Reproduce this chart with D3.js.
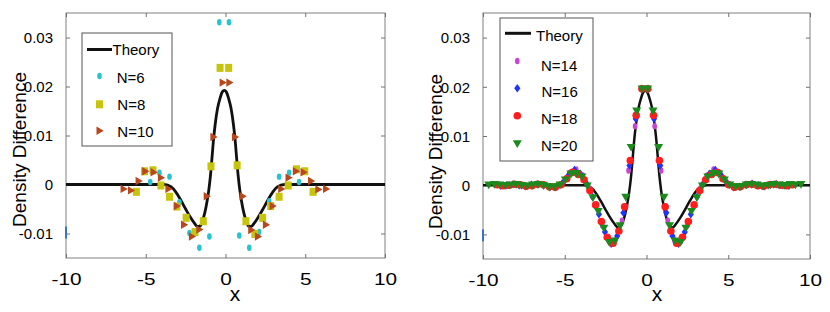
<!DOCTYPE html>
<html>
<head>
<meta charset="utf-8">
<script src="https://cdn.jsdelivr.net/npm/d3@7"></script>
<style>
  body { margin: 0; background: #fff; }
  svg { display: block; font-family: "Liberation Sans", Arial, Helvetica, sans-serif; }
</style>
</head>
<body>
<div id="chart"></div>
<script>
const xTicks = [-10, -5, 0, 5, 10];
const yTicks = [-0.01, 0, 0.01, 0.02, 0.03];

// theory curve
const theoryX = [-10, -3.85, -3.4, -3.1, -2.8, -2.5, -2.2, -1.95, -1.75, -1.6, -1.45, -1.3, -1.15, -1.05, -0.95, -0.85, -0.75, -0.65, -0.5, -0.35, -0.2, -0.075,
  0.05, 0.2, 0.35, 0.5, 0.6, 0.7, 0.8, 0.9, 1.0, 1.15, 1.3, 1.45, 1.6, 1.8, 2.05, 2.35, 2.65, 2.95, 3.25, 3.7, 10];
const theoryY = [0, 0, -0.0005, -0.0016, -0.0032, -0.005, -0.0067, -0.0079, -0.0086, -0.0085, -0.0075, -0.0058, -0.0033, -0.0012, 0.0016, 0.0053, 0.0092, 0.0122, 0.0155, 0.0175, 0.0189, 0.0192,
  0.0189, 0.0175, 0.0155, 0.0122, 0.0092, 0.0053, 0.0016, -0.0012, -0.0033, -0.0058, -0.0075, -0.0085, -0.0086, -0.0079, -0.0067, -0.005, -0.0032, -0.0016, -0.0005, 0, 0];

// left panel
const n6X = [-4.72, -4.14, -3.51, -2.89, -2.26, -1.64, -1.01, -0.39, 0.22, 0.86, 1.49, 2.11, 2.74, 3.36, 3.99, 4.61];
const n6Y = [0.0005, 0.0024, 0.0016, -0.0036, -0.0099, -0.0129, -0.0106, 0.0331, 0.0331, -0.0104, -0.0129, -0.0097, -0.0034, 0.0016, 0.0024, 0.0005];

const n8X = [-5.59, -5.08, -4.55, -4.05, -3.51, -3.05, -2.47, -1.91, -1.39, -0.91, -0.34, 0.2, 0.73, 1.28, 1.84, 2.33, 2.83, 3.36, 3.93, 4.45, 4.97, 5.49];
const n8Y = [-0.0015, 0.0027, 0.0029, -0.0002, -0.0025, -0.0045, -0.0068, -0.0097, -0.0075, 0.0037, 0.0238, 0.0238, 0.0039, -0.0075, -0.0101, -0.0068, -0.0044, -0.0025, -0.0002, 0.0031, 0.0027, -0.0015];

const n10X = [-6.39, -5.93, -5.45, -5.03, -4.51, -4.05, -3.58, -3.05, -2.6, -2.11, -1.64, -1.18, -0.76, -0.18, 0.24, 0.59, 1.07, 1.61, 2.03, 2.53, 2.95, 3.49, 3.95, 4.41, 4.89, 5.36, 5.82, 6.3];
const n10Y = [-0.0009, -0.0012, 0.0007, 0.0027, 0.0025, 0.0014, -0.0009, -0.0044, -0.0082, -0.0106, -0.0092, -0.0024, 0.0097, 0.0208, 0.0208, 0.0097, -0.0024, -0.0093, -0.0106, -0.0082, -0.0044, -0.0009, 0.0014, 0.0027, 0.0025, 0.0007, -0.001, -0.0009];

// right panel
const n14X = [-8.3, -7.9, -7.5, -7.1, -6.7, -6.3, -5.9, -5.5, -5.1, -4.7, -4.3, -3.9, -3.5, -3.1, -2.7, -2.3, -1.9, -1.5, -1.1, -0.7, -0.3,
  0.1, 0.5, 0.9, 1.3, 1.7, 2.1, 2.5, 2.9, 3.3, 3.7, 4.1, 4.5, 4.9, 5.3, 5.7, 6.1, 6.5, 6.9, 7.3, 7.7, 8.1];
const n14Y = [0, 0.0001, -0.0001, 0, 0.0002, 0.0001, -0.0003, -0.0004, 0.0006, 0.0025, 0.0032, 0.002, -0.0006, -0.0041, -0.0082, -0.0114, -0.0112, -0.0072, 0.003, 0.012, 0.0195,
  0.0195, 0.012, 0.003, -0.0072, -0.0112, -0.0114, -0.0082, -0.0041, -0.0006, 0.002, 0.0032, 0.0025, 0.0006, -0.0004, -0.0002, 0.0002, 0.0001, -0.0001, 0, 0.0002, 0];

const n16X = [-8.91, -8.54, -8.16, -7.79, -7.41, -7.04, -6.66, -6.29, -5.91, -5.54, -5.16, -4.79, -4.41, -4.04, -3.66, -3.29, -2.91, -2.54, -2.16, -1.79, -1.41, -1.04, -0.66, -0.29,
  0.09, 0.46, 0.84, 1.21, 1.59, 1.96, 2.34, 2.71, 3.09, 3.46, 3.84, 4.21, 4.59, 4.96, 5.34, 5.71, 6.09, 6.46, 6.84, 7.21, 7.59, 7.96, 8.34, 8.71];
const n16Y = [-0.0001, 0, 0.0002, 0, -0.0002, 0.0001, 0.0002, 0, -0.0004, -0.0004, 0.0003, 0.0019, 0.0031, 0.0023, 0.0003, -0.0024, -0.0059, -0.0095, -0.0119, -0.0103, -0.0056, 0.004, 0.0135, 0.0196,
  0.0196, 0.0135, 0.004, -0.0056, -0.0103, -0.0119, -0.0095, -0.0059, -0.0024, 0.0003, 0.0023, 0.0031, 0.0019, 0.0003, -0.0004, -0.0003, 0.0001, 0.0003, 0, -0.0002, 0.0001, 0.0002, 0, -0.0001];

const n18X = [-9.13, -8.77, -8.42, -8.07, -7.71, -7.36, -7.0, -6.65, -6.3, -5.94, -5.59, -5.23, -4.88, -4.53, -4.17, -3.82, -3.46, -3.11, -2.76, -2.4, -2.05, -1.69, -1.34, -0.99, -0.63, -0.28,
  0.08, 0.43, 0.79, 1.14, 1.49, 1.85, 2.2, 2.56, 2.91, 3.26, 3.62, 3.97, 4.33, 4.68, 5.03, 5.39, 5.74, 6.1, 6.45, 6.8, 7.16, 7.51, 7.87, 8.22, 8.57, 8.93];
const n18Y = [0.0001, -0.0001, 0, 0.0002, 0.0001, -0.0002, -0.0001, 0.0002, 0.0001, -0.0003, -0.0004, 0.0001, 0.0013, 0.0026, 0.0022, 0.0011, -0.0011, -0.004, -0.0074, -0.0106, -0.0118, -0.0093, -0.0044, 0.005, 0.0142, 0.0196,
  0.0196, 0.0142, 0.005, -0.0044, -0.0093, -0.0118, -0.0106, -0.0074, -0.004, -0.0011, 0.0011, 0.0022, 0.0026, 0.0013, 0.0001, -0.0004, -0.0003, 0.0001, 0.0002, -0.0001, -0.0002, 0.0001, 0.0002, 0, -0.0001, 0.0001];

const n20X = [-9.65, -9.31, -8.98, -8.64, -8.31, -7.97, -7.64, -7.3, -6.97, -6.63, -6.3, -5.96, -5.63, -5.29, -4.96, -4.62, -4.29, -3.95, -3.62, -3.28, -2.95, -2.61, -2.28, -1.94, -1.61, -1.27, -0.94, -0.6, -0.27,
  0.07, 0.4, 0.74, 1.07, 1.41, 1.74, 2.08, 2.41, 2.75, 3.08, 3.42, 3.75, 4.09, 4.42, 4.76, 5.09, 5.43, 5.76, 6.1, 6.43, 6.77, 7.1, 7.44, 7.77, 8.11, 8.44, 8.78, 9.11, 9.45];
const n20Y = [0, 0.0001, 0, -0.0001, 0, 0.0001, -0.0001, -0.0002, 0, 0.0001, -0.0001, -0.0004, -0.0004, 0, 0.001, 0.0022, 0.0023, 0.0016, -0.0002, -0.0026, -0.0054, -0.0088, -0.0117, -0.0114, -0.0083, -0.0025, 0.0076, 0.015, 0.0195,
  0.0195, 0.015, 0.0076, -0.0025, -0.0083, -0.0114, -0.0117, -0.0088, -0.0054, -0.0026, -0.0002, 0.0016, 0.0023, 0.0022, 0.001, 0, -0.0004, -0.0003, 0, 0.0001, 0, -0.0002, -0.0001, 0.0001, 0, -0.0001, 0.0001, 0, 0.0001];

// stray blue specks in the original
const strayLeft = [[-10, -0.0098]];
const strayRight = [[-10, -0.0102], [-3.47, 0.0309]];

const width = 830, height = 312;

const svg = d3.select("#chart").append("svg")
  .attr("width", width)
  .attr("height", height);

svg.append("rect").attr("width", width).attr("height", height).attr("fill", "#fff");

const shapes = {
  dot: g => g.append("ellipse").attr("rx", 2.3).attr("ry", 3.2),
  square: g => g.append("rect").attr("x", -3.5).attr("y", -4).attr("width", 7).attr("height", 8),
  triRight: g => g.append("path").attr("d", "M-3,-4.2L4.2,0L-3,4.2Z"),
  diamond: g => g.append("path").attr("d", "M0,-4.3L3.1,0L0,4.3L-3.1,0Z"),
  circle: g => g.append("circle").attr("r", 3.8),
  triDown: g => g.append("path").attr("d", "M-4.5,-3.8L4.5,-3.8L0,4Z")
};

const panels = [
  {
    left: 66, right: 385, top: 13, bottom: 258, lineWidth: 2.8,
    yLabel: [26, 149.5], xLabel: [235, 301],
    stray: strayLeft,
    series: [
      { label: "N=6", xs: n6X, ys: n6Y, shape: "dot", color: "#27c4cf" },
      { label: "N=8", xs: n8X, ys: n8Y, shape: "square", color: "#c6c40c" },
      { label: "N=10", xs: n10X, ys: n10Y, shape: "triRight", color: "#b9471d" }
    ],
    legend: {
      box: [82, 33, 90, 113], line: [87, 112, 49.5], theoryText: [112.5, 55],
      markX: 99.5, markY: [76, 104.3, 130.7], textX: [116.7, 117.3, 117.3], textY: [82.7, 110, 136.7]
    }
  },
  {
    left: 483, right: 810, top: 13, bottom: 259, lineWidth: 2.5,
    yLabel: [442, 151.5], xLabel: [657, 301],
    stray: strayRight,
    series: [
      { label: "N=14", xs: n14X, ys: n14Y, shape: "dot", color: "#c645d2" },
      { label: "N=16", xs: n16X, ys: n16Y, shape: "diamond", color: "#1f32ff" },
      { label: "N=18", xs: n18X, ys: n18Y, shape: "circle", color: "#ff1d1d" },
      { label: "N=20", xs: n20X, ys: n20Y, shape: "triDown", color: "#1d8a1d" }
    ],
    legend: {
      box: [500, 18, 93, 143], line: [505, 531, 33.3], theoryText: [536, 40.5],
      markX: 517.3, markY: [61, 88.3, 115.7, 144], textX: [541, 541.5, 541, 541], textY: [70.7, 97, 124, 150.7]
    }
  }
];

panels.forEach(p => {
  const x = d3.scaleLinear().domain([-10, 10]).range([p.left, p.right]);
  const y = d3.scaleLinear().domain([-0.015, 0.035]).range([p.bottom, p.top]);
  const g = svg.append("g");

  // frame
  g.append("rect")
    .attr("x", p.left).attr("y", p.top)
    .attr("width", p.right - p.left).attr("height", p.bottom - p.top)
    .attr("fill", "none").attr("stroke", "#808080").attr("stroke-width", 1);

  // ticks on all four sides, pointing inwards
  const bottomAxis = g.append("g")
    .attr("transform", `translate(0,${p.bottom})`)
    .call(d3.axisBottom(x).tickValues(xTicks).tickSize(-4).tickFormat(d => String(d)));
  g.append("g")
    .attr("transform", `translate(0,${p.top})`)
    .call(d3.axisTop(x).tickValues(xTicks).tickSize(-4).tickFormat(""));
  const leftAxis = g.append("g")
    .attr("transform", `translate(${p.left},0)`)
    .call(d3.axisLeft(y).tickValues(yTicks).tickSize(-4).tickFormat(d => d === 0 ? "0" : d.toFixed(2)));
  g.append("g")
    .attr("transform", `translate(${p.right},0)`)
    .call(d3.axisRight(y).tickValues(yTicks).tickSize(-4).tickFormat(""));

  g.selectAll(".domain").remove();
  g.selectAll(".tick line").attr("stroke", "#707070");

  bottomAxis.selectAll("text")
    .attr("y", 27).attr("dy", 0)
    .attr("transform", "scale(1.3,1)")
    .style("font-size", "16px").attr("fill", "#000");
  leftAxis.selectAll("text")
    .attr("x", -13).attr("dy", "0.35em")
    .style("font-size", "15px").attr("fill", "#000");

  // axis titles
  g.append("text")
    .attr("transform", `translate(${p.yLabel[0]},${p.yLabel[1]}) rotate(-90)`)
    .attr("text-anchor", "middle")
    .style("font-size", "19px")
    .text("Density Difference");
  g.append("text")
    .attr("x", p.xLabel[0]).attr("y", p.xLabel[1])
    .attr("text-anchor", "middle")
    .style("font-size", "21px")
    .text("x");

  // theory
  const line = d3.line()
    .x((d, i) => x(theoryX[i]))
    .y(d => y(d))
    .curve(d3.curveMonotoneX);
  g.append("path")
    .attr("d", line(theoryY))
    .attr("fill", "none")
    .attr("stroke", "#111")
    .attr("stroke-width", p.lineWidth);

  // simulated points
  p.series.forEach(s => {
    g.append("g").attr("fill", s.color)
      .selectAll("g")
      .data(s.ys)
      .enter().append("g")
        .attr("transform", (d, i) => `translate(${x(s.xs[i])},${y(d)})`)
        .each(function() { shapes[s.shape](d3.select(this)); });
  });

  g.selectAll(".stray")
    .data(p.stray)
    .enter().append("rect")
      .attr("class", "stray")
      .attr("x", d => x(d[0]) - 1)
      .attr("y", d => y(d[1]) - 6)
      .attr("width", 2).attr("height", 12)
      .attr("fill", "#3d6fd0");

  // legend
  const L = p.legend;
  g.append("rect")
    .attr("x", L.box[0]).attr("y", L.box[1])
    .attr("width", L.box[2]).attr("height", L.box[3])
    .attr("fill", "#fff").attr("stroke", "#555").attr("stroke-width", 1);
  g.append("line")
    .attr("x1", L.line[0]).attr("x2", L.line[1])
    .attr("y1", L.line[2]).attr("y2", L.line[2])
    .attr("stroke", "#111").attr("stroke-width", 3);
  g.append("text")
    .attr("x", L.theoryText[0]).attr("y", L.theoryText[1])
    .style("font-size", "15px")
    .text("Theory");

  p.series.forEach((s, i) => {
    const m = g.append("g")
      .attr("fill", s.color)
      .attr("transform", `translate(${L.markX},${L.markY[i]})`);
    shapes[s.shape](m);
    g.append("text")
      .attr("x", L.textX[i]).attr("y", L.textY[i])
      .style("font-size", "15px")
      .text(s.label);
  });
});
</script>
</body>
</html>
